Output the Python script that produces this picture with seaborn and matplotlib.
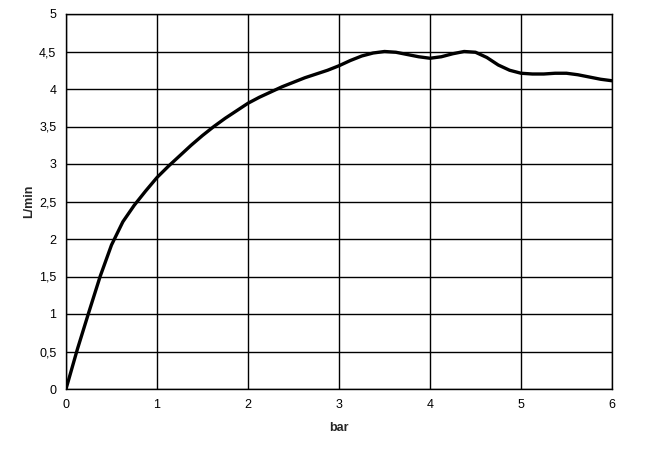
import numpy as np
import matplotlib
matplotlib.use("Agg")
import matplotlib.pyplot as plt
import seaborn as sns

# values (bar vs L/min), every 0.125 bar
pressure = [0, 0.125, 0.25, 0.375, 0.5, 0.625, 0.75, 0.875,
            1, 1.125, 1.25, 1.375, 1.5, 1.625, 1.75, 1.875,
            2, 2.125, 2.25, 2.375, 2.5, 2.625, 2.75, 2.875,
            3, 3.125, 3.25, 3.375, 3.5, 3.625, 3.75, 3.875,
            4, 4.125, 4.25, 4.375, 4.5, 4.625, 4.75, 4.875,
            5, 5.125, 5.25, 5.375, 5.5, 5.625, 5.75, 5.875, 6]
flow = [0, 0.53, 1.02, 1.5, 1.92, 2.23, 2.45, 2.64,
        2.82, 2.97, 3.11, 3.25, 3.38, 3.5, 3.61, 3.71,
        3.81, 3.89, 3.96, 4.03, 4.09, 4.15, 4.2, 4.25,
        4.31, 4.38, 4.44, 4.48, 4.5, 4.49, 4.46, 4.43,
        4.41, 4.43, 4.47, 4.5, 4.49, 4.42, 4.32, 4.25,
        4.21, 4.2, 4.2, 4.21, 4.21, 4.19, 4.16, 4.13, 4.11]

x_ticks = [0, 1, 2, 3, 4, 5, 6]
y_ticks = [0, 0.5, 1, 1.5, 2, 2.5, 3, 3.5, 4, 4.5, 5]
y_tick_labels = ["0", "0,5", "1", "1,5", "2", "2,5", "3", "3,5", "4", "4,5", "5"]

sns.set_style("white")
plt.rcParams["font.family"] = ["Liberation Sans", "DejaVu Sans"]

fig = plt.figure(figsize=(6.59, 4.54), dpi=100)
ax = fig.add_axes([66 / 659, 1 - 389 / 454, (612 - 66) / 659, (389 - 14) / 454])

sns.lineplot(x=pressure, y=flow, color="black", linewidth=2.4, ax=ax)
for ln in ax.get_lines():
    ln.set_solid_joinstyle("round")
    ln.set_solid_capstyle("round")

ax.set_xlim(0, 6)
ax.set_ylim(0, 5)
ax.set_xticks(x_ticks)
ax.set_yticks(y_ticks)
ax.set_yticklabels(y_tick_labels)
ax.grid(True, color="black", linewidth=1)
ax.set_axisbelow(True)

for s in ax.spines.values():
    s.set_color("black")
    s.set_linewidth(1)

ax.tick_params(axis="both", direction="out", length=4, width=1, color="black",
               labelsize=9, labelcolor="black", pad=3)

ax.set_xlabel("bar", fontsize=9, fontweight="bold", labelpad=8)
ax.set_ylabel("L/min", fontsize=9, fontweight="bold", labelpad=3)

fig.savefig("out.png", dpi=100)
